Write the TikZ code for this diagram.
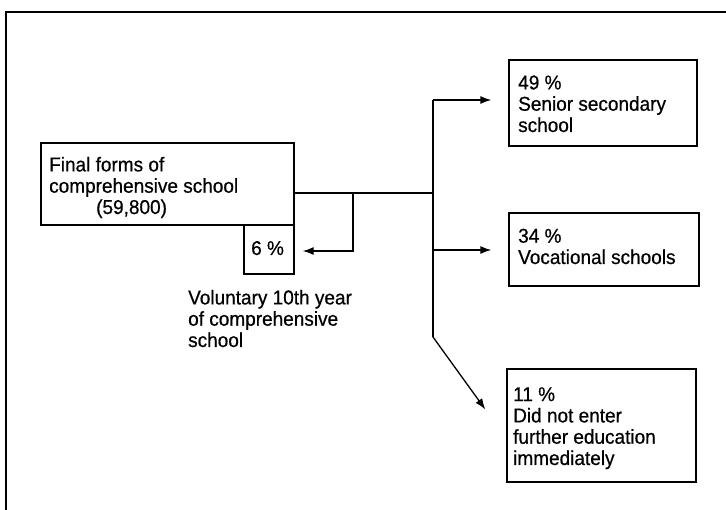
\documentclass[tikz,border=0pt]{standalone}
\usepackage{fontspec}
\setmainfont[FakeStretch=0.95,FakeBold=0.6]{Liberation Sans}
\usetikzlibrary{arrows.meta}
\begin{document}
\begin{tikzpicture}[x=1pt,y=-1pt,
  boxnode/.style={draw,line width=1.3pt,inner sep=0pt,rectangle},
  txt/.style={anchor=base west,align=left,inner sep=0pt,font=\fontsize{20}{21.3}\selectfont},
  conn/.style={line width=1.3pt},
  arr/.style={line width=1.3pt,-{Latex[length=11pt,width=8pt]}}]
\useasboundingbox (0,0) rectangle (726,510);
% outer frame (open to the right and bottom)
\draw[line width=1.5pt] (6,515) -- (6,12) -- (730,12);
% boxes
\node[boxnode,minimum width=253pt,minimum height=82pt] (main) at (167.5,184) {};
\node[boxnode,minimum width=50pt,minimum height=49pt] (six) at (269,249.5) {};
\node[boxnode,minimum width=188pt,minimum height=86pt] (sen) at (603,103) {};
\node[boxnode,minimum width=190pt,minimum height=73pt] (voc) at (604,249.5) {};
\node[boxnode,minimum width=189pt,minimum height=113pt] (did) at (601.5,425.5) {};
% texts (anchor at the baseline of the last line)
\node[txt] (tmain) at (49,214) {Final forms of\\comprehensive school\\\hspace*{47pt}(59,800)};
\node[txt] (tsix) at (251,255) {6\ \%};
\node[txt] (tvol) at (188,347) {Voluntary 10th year\\of comprehensive\\school};
\node[txt] (tsen) at (518,132) {49\ \%\\Senior secondary\\school};
\node[txt] (tvoc) at (518,264) {34\ \%\\Vocational schools};
\node[txt] (tdid) at (513,465) {11\ \%\\Did not enter\\further education\\immediately};
% connectors
\coordinate (j1) at (353,193);
\coordinate (j2) at (433,193);
\coordinate (jtop) at (433,100);
\coordinate (jbot) at (433,337);
\draw[conn] (main.east |- j1) -- (j2);
\draw[arr] (j1) -- (353,251) -- ([xshift=8pt]six.east |- 0,251);
\draw[conn] (jtop) -- (jbot);
\draw[arr] (jtop) -- ([xshift=-17pt]sen.west |- jtop);
\draw[arr] (433,250) -- ([xshift=-17pt]voc.west |- 0,250);
\draw[arr] (jbot) -- ([xshift=-21pt,yshift=16pt]did.west);
\end{tikzpicture}
\end{document}
